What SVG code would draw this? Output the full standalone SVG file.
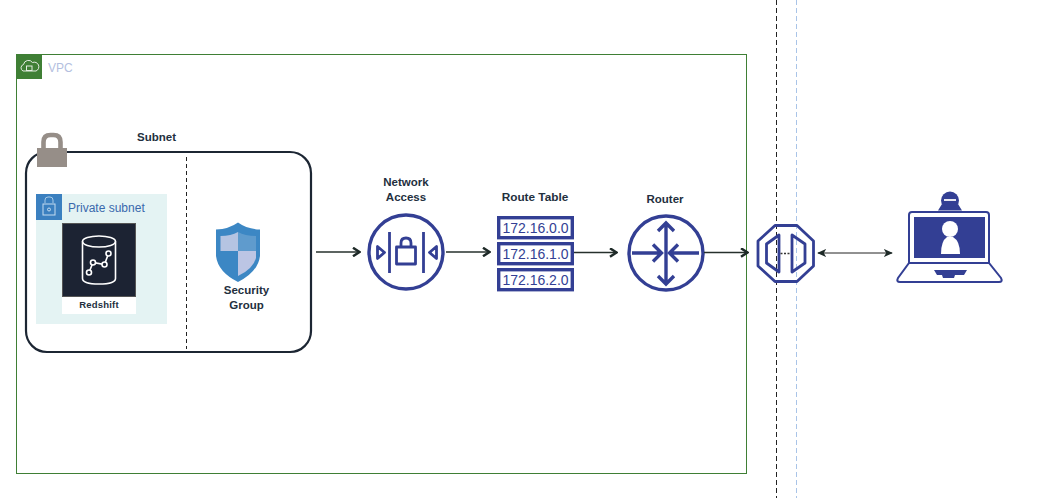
<svg xmlns="http://www.w3.org/2000/svg" width="1037" height="498" viewBox="0 0 1037 498">
<style>
text{font-family:"Liberation Sans",Arial,sans-serif}
.lb{font-size:11.500px;font-weight:700;fill:#232f3e;text-anchor:middle}
.b{fill:none;stroke:#333f94;stroke-width:3.400}
.t{fill:none;stroke:#333f94;stroke-width:2.800;stroke-linejoin:round}
.ip{font-size:14px;fill:#333f94;text-anchor:middle}
.c{fill:none;stroke:#26302c;stroke-width:1.700}
</style>
<defs>
<marker id="a" viewBox="0 0 10 10" refX="9" refY="5" markerWidth="10" markerHeight="10" markerUnits="userSpaceOnUse" orient="auto-start-reverse"><path d="M2 .8L8.500 5L2 9.200" fill="none" stroke="#1e2a28" stroke-width="2.500"/></marker>
<marker id="d" viewBox="0 0 10 10" refX="9" refY="5" markerWidth="9" markerHeight="9" markerUnits="userSpaceOnUse" orient="auto-start-reverse"><path d="M0 .5L10 5L0 9.500L2.500 5Z" fill="#1e2a28"/></marker>
</defs>
<rect width="1037" height="498" fill="#fff"/>
<g id="boundaries">
<line x1="776.500" y1="0" x2="776.500" y2="498" stroke="#222" stroke-dasharray="5 3"/>
<line x1="796.500" y1="0" x2="796.500" y2="498" stroke="#a9c4e8" stroke-dasharray="5 3"/>
</g>
<g id="vpc">
<rect x="16.500" y="54.500" width="730" height="419" fill="none" stroke="#3f7f35"/>
<rect x="16" y="54" width="26" height="25" fill="#3f7f35"/>
<path d="M23 71a3.500 3.500 0 0 1 .5-6.500a5 5 0 0 1 9-2a4 4 0 0 1 3.500 8.500Z" fill="none" stroke="#e4ece2" stroke-width="1"/>
<rect x="26.500" y="66" width="5.500" height="4.500" fill="none" stroke="#e4ece2" stroke-width="1"/>
<text x="48" y="72" font-size="12" fill="#b4bfe0">VPC</text>
</g>
<g id="subnet">
<rect x="26" y="152" width="285" height="200" rx="21" fill="none" stroke="#1c2633" stroke-width="2.200"/>
<line x1="186.500" y1="157" x2="186.500" y2="349" stroke="#222" stroke-dasharray="4 3"/>
<path d="M43.500 149v-7q0-7 7-7h3q7 0 7 7v7" fill="none" stroke="#968e88" stroke-width="4.600"/>
<rect x="37" y="148" width="30" height="19" fill="#968e88"/>
<text x="156.500" y="141" class="lb">Subnet</text>
</g>
<g id="private-subnet">
<rect x="36" y="194" width="131" height="130" fill="#e4f3f3"/>
<rect x="36" y="194" width="26" height="26" fill="#3b80c0"/>
<path d="M45 203v-3q0-3 3-3h2q3 0 3 3v3" fill="none" stroke="#a8cbe8"/>
<rect x="43" y="204" width="12" height="11" fill="none" stroke="#c5dcf0"/>
<circle cx="49" cy="209.500" r="1.500" fill="none" stroke="#c5dcf0"/>
<text x="68" y="212" font-size="12" fill="#3a69ad">Private subnet</text>
</g>
<g id="redshift">
<rect x="62" y="297" width="74" height="17" fill="#fff"/>
<rect x="62.500" y="223.500" width="73" height="73" fill="#1c2333" stroke="#555"/>
<ellipse cx="99" cy="241.500" rx="16.500" ry="5.500" fill="none" stroke="#fff" stroke-width="1.600"/>
<path d="M82.500 241.500v37q0 5.500 16.500 5.500t16.500-5.500v-37" fill="none" stroke="#fff" stroke-width="1.600"/>
<path d="M89 272.500L93 262.500L104.500 264.500L108.500 253.500" fill="none" stroke="#fff" stroke-width="1.600"/>
<g fill="#1c2333" stroke="#fff" stroke-width="1.600"><circle cx="89" cy="272.500" r="2.500"/><circle cx="93" cy="262.500" r="2.500"/><circle cx="104.500" cy="264.500" r="2.500"/><circle cx="108.500" cy="253.500" r="2.500"/></g>
<text x="99" y="308" font-size="9.500" font-weight="700" fill="#232f3e" text-anchor="middle" letter-spacing=".2">Redshift</text>
</g>
<g id="security-group">
<path d="M238 222.500Q247 229 260 229.500V256Q258 272 238 282Q218 272 216 256V229.500Q229 229 238 222.500Z" fill="#3c87c4"/>
<path d="M238 232V251H220.500V236Q231 236 238 232Z" fill="#b5c4e2"/>
<path d="M238 251H256V258Q253 269 238 276Z" fill="#bcc5e4"/>
<path d="M238 232Q245 236 256 236V251H238Z" fill="#5f9bcd"/>
<text x="246.500" y="294" class="lb">Security</text>
<text x="246.500" y="309" class="lb">Group</text>
</g>
<g id="network-access">
<circle cx="406" cy="252" r="37" fill="#fff" class="b"/>
<path d="M389.500 232v41M423.500 232v41" class="t"/>
<rect x="396.500" y="247" width="19" height="17" class="t"/>
<path d="M401 247v-4q0-5 5-5q5 0 5 5v4" class="t"/>
<path d="M377.500 246.500v12l7-6ZM436.500 246.500v12l-7-6Z" class="t"/>
<text x="406" y="186" class="lb">Network</text>
<text x="406" y="201" class="lb">Access</text>
</g>
<g id="route-table">
<text x="535" y="201" class="lb" style="font-size:11.800px">Route Table</text>
<rect x="498.700" y="217.700" width="73.600" height="20" class="b"/>
<rect x="498.700" y="243.700" width="73.600" height="20" class="b"/>
<rect x="498.700" y="269.700" width="73.600" height="20" class="b"/>
<text x="535.500" y="233" class="ip">172.16.0.0</text>
<text x="535.500" y="259" class="ip">172.16.1.0</text>
<text x="535.500" y="285" class="ip">172.16.2.0</text>
</g>
<g id="router">
<text x="665" y="203" class="lb">Router</text>
<circle cx="666" cy="253" r="37" fill="#fff" class="b"/>
<g class="b"><path d="M666 223v61M658 231l8-8l8 8M658 276l8 8l8-8"/><path d="M632 253h28M653 244.500l8.500 8.500l-8.500 8.500M699 253h-28M678 244.500l-8.500 8.500l8.500 8.500"/></g>
</g>
<g id="gateway">
<path d="M775 225.500H797L813.500 241V266L797 281.500H775L758 266V241Z" class="t"/>
<path d="M779 235V272L766.500 263V244Z" class="t"/>
<path d="M792 235V272L805 263V244Z" class="t"/>
<line x1="780.500" y1="253.500" x2="791" y2="253.500" stroke="#333" stroke-width="1.500" stroke-dasharray="2 1.500"/>
</g>
<g id="client">
<circle cx="950" cy="200.500" r="9" fill="#333f94"/>
<path d="M942 204L938 210.500H962L958 204Q950 212 942 204Z" fill="#333f94"/>
<rect x="944" y="199" width="12" height="2" fill="#e8e8f2"/>
<path d="M909 263V215Q909 212 912 212H986Q989 212 989 215V263" fill="#fff" stroke="#333f94" stroke-width="2"/>
<rect x="914" y="217" width="71" height="41" fill="#333f94"/>
<circle cx="950" cy="229" r="8" fill="#fff"/>
<path d="M941 254Q941 241 947 237H953Q960 241 960 254Z" fill="#fff"/>
<path d="M909 263H989L1001 278Q1003 282 999 282H900Q896 282 898 278Z" fill="#fff" stroke="#333f94" stroke-width="2"/>
<path d="M934 270H967L964 275H955L954 278H943L942 275H937Z" fill="#333f94"/>
</g>
<g id="connectors">
<line x1="316" y1="252" x2="360" y2="252" class="c" marker-end="url(#a)"/>
<line x1="446" y1="252" x2="490" y2="252" class="c" marker-end="url(#a)"/>
<line x1="574" y1="252.500" x2="617" y2="252.500" class="c" marker-end="url(#a)"/>
<line x1="704" y1="252.500" x2="748" y2="252.500" class="c" marker-end="url(#a)"/>
<line x1="818" y1="253" x2="892" y2="253" stroke="#222" stroke-width="1" marker-start="url(#d)" marker-end="url(#d)"/>
</g>
</svg>
